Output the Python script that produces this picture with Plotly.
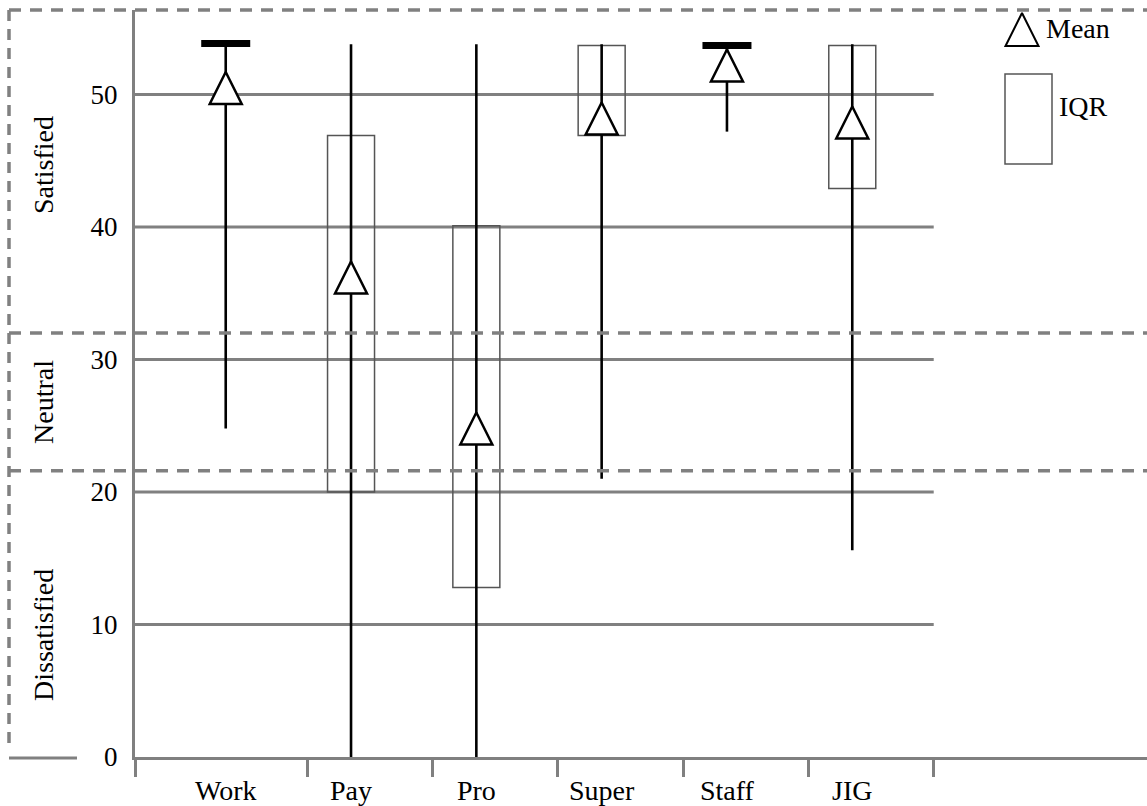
import plotly.graph_objects as go

# ---------------- data ----------------
CATEGORIES = ["Work", "Pay", "Pro", "Super", "Staff", "JIG"]
MEAN = [51.7, 37.4, 26.0, 49.4, 53.4, 49.1]          # apex of the mean triangle
MIN = [24.8, 0.0, 0.0, 21.0, 47.2, 15.6]
MAX = [53.8, 53.8, 53.8, 53.8, 53.8, 53.8]
Q1 = [None, 20.0, 12.8, 46.9, None, 42.9]
Q3 = [None, 46.9, 40.1, 53.7, None, 53.7]
CAP = [53.85, None, None, None, 53.7, None]           # thick bar at the top
Y_TICKS = [0, 10, 20, 30, 40, 50]
BAND_EDGES = [21.6, 32.0]
BAND_LABELS = ["Satisfied", "Neutral", "Dissatisfied"]
LEGEND_LABELS = ["Mean", "IQR"]

# ---------------- style / layout ----------------
W, H = 1147, 806
ML, MR, MT, MB = 135, 0, 10, 49
X_RANGE = [-0.724, 7.352]
Y_RANGE = [0, 56.38]
GRAY = "#808080"
BOX_GRAY = "#555555"
FONT = "Liberation Serif, Times New Roman, serif"
FS = 28
BOX_W = 0.375
SEP_OFFSET = 0.65
LABEL_OFFSET = 0.0

n = len(CATEGORIES)
idx = list(range(n))
pw, ph = W - ML - MR, H - MT - MB


def px_x(p):  # pixel -> paper x
    return (p - ML) / pw


def px_y(p):  # pixel -> paper y
    return (H - MB - p) / ph


fig = go.Figure()

# IQR boxes
bx = [i for i in idx if Q1[i] is not None]
fig.add_trace(go.Bar(
    x=bx, base=[Q1[i] for i in bx], y=[Q3[i] - Q1[i] for i in bx],
    width=BOX_W, marker=dict(color="rgba(0,0,0,0)", line=dict(color=BOX_GRAY, width=1.5)),
    showlegend=False, hoverinfo="skip"))

# whiskers (min-max)
wx, wy = [], []
for i in idx:
    wx += [i, i, None]
    wy += [MIN[i], MAX[i], None]
fig.add_trace(go.Scatter(x=wx, y=wy, mode="lines", line=dict(color="black", width=2.6),
                         showlegend=False, hoverinfo="skip"))

# thick top caps
cx = [i for i in idx if CAP[i] is not None]
fig.add_trace(go.Scatter(
    x=cx, y=[CAP[i] for i in cx], mode="markers",
    marker=dict(symbol="line-ew", size=35, line=dict(color="black", width=7)),
    showlegend=False, hoverinfo="skip", cliponaxis=False))

# mean triangles
fig.add_trace(go.Scatter(
    x=idx, y=MEAN, mode="markers",
    marker=dict(symbol="arrow-up", size=32, color="white", line=dict(color="black", width=2.5)),
    showlegend=False, hoverinfo="skip", cliponaxis=False))

# legend triangle on an overlay (paper-like) axis
fig.add_trace(go.Scatter(
    x=[px_x(1022)], y=[px_y(13)], mode="markers", xaxis="x2", yaxis="y2",
    marker=dict(symbol="arrow-up", size=33, color="white", line=dict(color="black", width=2)),
    showlegend=False, hoverinfo="skip", cliponaxis=False))

shapes = []
# gridlines (end at last category boundary)
for t in Y_TICKS[1:]:
    shapes.append(dict(type="line", xref="x", yref="y", x0=X_RANGE[0], x1=n - 1 + SEP_OFFSET,
                       y0=t, y1=t, line=dict(color=GRAY, width=3), layer="below"))
# band separators (dashed)
for b in BAND_EDGES:
    shapes.append(dict(type="line", xref="paper", yref="y", x0=px_x(9), x1=1, y0=b, y1=b,
                       line=dict(color=GRAY, width=3.5, dash="12px,9px")))
# outer dashed frame: top and left
shapes.append(dict(type="line", xref="paper", yref="paper", x0=px_x(9), x1=1, y0=px_y(10), y1=px_y(10),
                   line=dict(color=GRAY, width=3.5, dash="12px,9px")))
shapes.append(dict(type="line", xref="paper", yref="paper", x0=px_x(9), x1=px_x(9), y0=px_y(10), y1=px_y(748),
                   line=dict(color=GRAY, width=3.5, dash="11px,8px")))
shapes.append(dict(type="line", xref="paper", yref="paper", x0=px_x(9), x1=px_x(77), y0=px_y(758), y1=px_y(758),
                   line=dict(color=GRAY, width=3)))
# legend IQR box
shapes.append(dict(type="rect", xref="paper", yref="paper", x0=px_x(1005), x1=px_x(1052),
                   y0=px_y(164), y1=px_y(74), line=dict(color=BOX_GRAY, width=1.5)))

annotations = []
band_pos = [165, 402, 635]
for lab, p in zip(BAND_LABELS, band_pos):
    annotations.append(dict(text=lab, xref="paper", yref="paper", x=px_x(43), y=px_y(p),
                            textangle=-90, showarrow=False, xanchor="center", yanchor="middle",
                            font=dict(family=FONT, size=FS, color="black")))
annotations.append(dict(text=LEGEND_LABELS[0], xref="paper", yref="paper", x=px_x(1044), y=px_y(29),
                        showarrow=False, xanchor="left", yanchor="middle",
                        font=dict(family=FONT, size=FS, color="black")))
annotations.append(dict(text=LEGEND_LABELS[1], xref="paper", yref="paper", x=px_x(1057), y=px_y(106),
                        showarrow=False, xanchor="left", yanchor="middle",
                        font=dict(family=FONT, size=FS, color="black")))

fig.update_layout(
    width=W, height=H, margin=dict(l=ML, r=MR, t=MT, b=MB, autoexpand=False),
    paper_bgcolor="white", plot_bgcolor="white", showlegend=False,
    shapes=shapes, annotations=annotations,
    xaxis=dict(range=X_RANGE, tickmode="array", tickvals=[i + LABEL_OFFSET for i in idx],
               ticktext=CATEGORIES, ticks="", automargin=False,
               showgrid=False, zeroline=False, showline=True, linecolor=GRAY, linewidth=3,
               tickfont=dict(family=FONT, size=FS, color="black"), ticklabelstandoff=6,
               minor=dict(tickmode="array", tickvals=[X_RANGE[0]] + [i + SEP_OFFSET for i in idx],
                          ticks="outside", ticklen=17, tickwidth=3, tickcolor=GRAY, showgrid=False)),
    yaxis=dict(range=Y_RANGE, tickmode="array", tickvals=Y_TICKS, ticks="", showgrid=False,
               automargin=False, zeroline=False, showline=True, linecolor=GRAY, linewidth=3,
               tickfont=dict(family=FONT, size=27, color="black"), ticklabelstandoff=9),
    xaxis2=dict(overlaying="x", range=[0, 1], visible=False, fixedrange=True),
    yaxis2=dict(overlaying="y", range=[0, 1], visible=False, fixedrange=True),
)

fig.write_html("out.html", config={"displayModeBar": False},
               post_script="document.body.style.margin='0';")
